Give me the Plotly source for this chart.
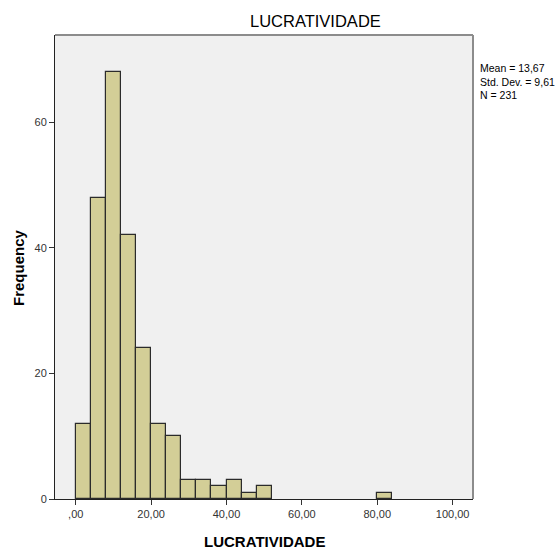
import plotly.graph_objects as go

# Histogram of LUCRATIVIDADE, bins of width 4
bin_starts = [0, 4, 8, 12, 16, 20, 24, 28, 32, 36, 40, 44, 48, 80]
counts = [12, 48, 68, 42, 24, 12, 10, 3, 3, 2, 3, 1, 2, 1]
bin_width = 4

x_ticks = [0, 20, 40, 60, 80, 100]
x_tick_labels = [",00", "20,00", "40,00", "60,00", "80,00", "100,00"]
y_ticks = [0, 20, 40, 60]

stats_lines = ["Mean = 13,67", "Std. Dev. = 9,61", "N = 231"]

W, H = 558, 549
L, R, T, B = 55, 85, 35, 50

fig = go.Figure()
fig.add_trace(go.Bar(
    x=[s + bin_width / 2 for s in bin_starts],
    y=counts,
    width=[bin_width] * len(bin_starts),
    marker=dict(color="#d3ce97", line=dict(color="#2b2b2b", width=1.2)),
    hoverinfo="x+y",
))

tick_font = dict(family="Liberation Sans, Arial, sans-serif", size=11, color="#333333")

fig.update_layout(
    width=W, height=H,
    margin=dict(l=L, r=R, t=T, b=B),
    paper_bgcolor="white",
    plot_bgcolor="#f0f0f0",
    showlegend=False,
    bargap=0,
    xaxis=dict(
        range=[-5.5, 105.4],
        tickvals=x_ticks, ticktext=x_tick_labels,
        ticks="outside", ticklen=5, tickcolor="#333333",
        showline=True, linecolor="#222222", linewidth=1,
        showgrid=False, zeroline=False, tickfont=tick_font,
        mirror=False,
    ),
    yaxis=dict(
        range=[0, 73.9],
        tickvals=y_ticks,
        ticks="outside", ticklen=5, tickcolor="#333333",
        showline=True, linecolor="#222222", linewidth=1,
        showgrid=False, zeroline=False, tickfont=tick_font,
    ),
    font=dict(family="Liberation Sans, Arial, sans-serif"),
)

# grey frame on the top and right sides of the plot area
fig.add_shape(type="line", xref="paper", yref="paper", x0=0, x1=1, y0=1, y1=1,
              line=dict(color="#8c8c8c", width=2))
fig.add_shape(type="line", xref="paper", yref="paper", x0=1, x1=1, y0=0, y1=1,
              line=dict(color="#8c8c8c", width=2))

pw = W - L - R
ph = H - T - B

def px_x(x):
    return (x - L) / pw

def px_y(y):
    return (H - B - y) / ph

# chart title
fig.add_annotation(text="LUCRATIVIDADE", xref="paper", yref="paper",
                   x=px_x(315), y=px_y(21), xanchor="center", yanchor="middle",
                   showarrow=False, font=dict(size=16.5, color="black"))
# axis titles
fig.add_annotation(text="<b>LUCRATIVIDADE</b>", xref="paper", yref="paper",
                   x=px_x(264), y=px_y(541), xanchor="center", yanchor="middle",
                   showarrow=False, font=dict(size=15, color="black"))
fig.add_annotation(text="<b>Frequency</b>", xref="paper", yref="paper",
                   x=px_x(18), y=px_y(268), xanchor="center", yanchor="middle",
                   showarrow=False, textangle=-90,
                   font=dict(size=15, color="black"))
# summary statistics
fig.add_annotation(text="<br>".join(stats_lines), xref="paper", yref="paper",
                   x=px_x(478), y=px_y(60), xanchor="left", yanchor="top",
                   align="left", showarrow=False,
                   font=dict(size=10.5, color="black"))

fig.write_html("out.html")
